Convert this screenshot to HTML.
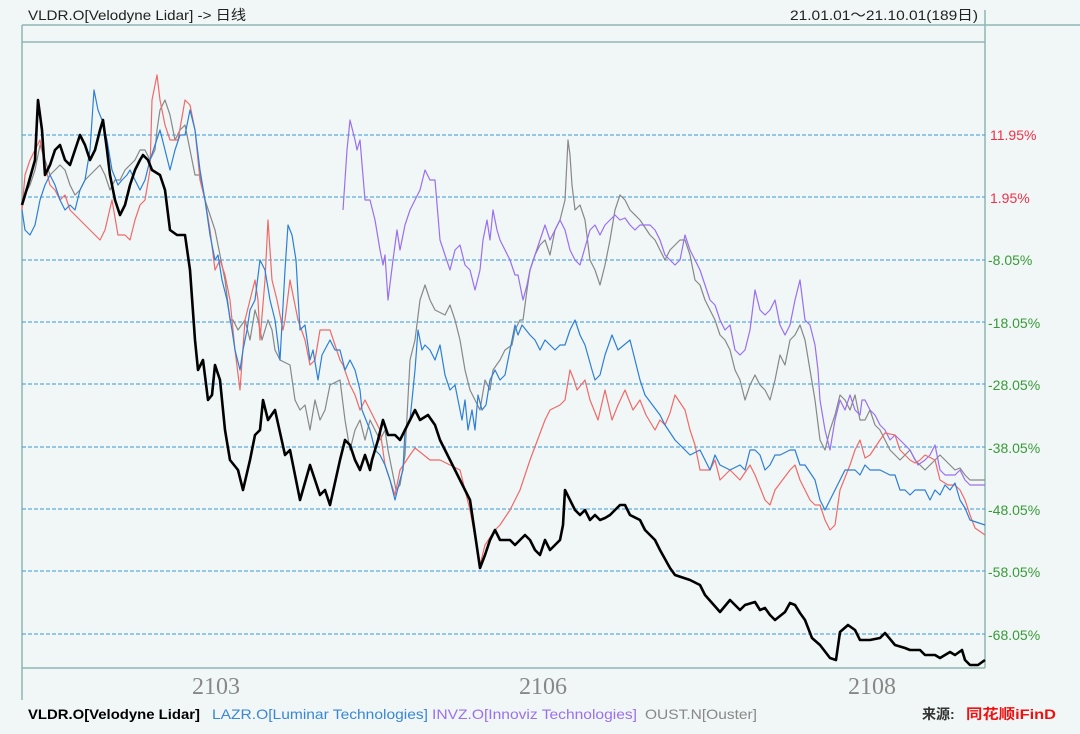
<!DOCTYPE html>
<html><head><meta charset="utf-8"><style>
html,body{margin:0;padding:0;background:#f0f7f6;}
body{width:1080px;height:729px;overflow:hidden;}
</style></head><body>
<svg width="1080" height="729" xmlns="http://www.w3.org/2000/svg" font-family="Liberation Sans, Noto Sans CJK SC, sans-serif">
<rect width="1080" height="729" fill="#f0f7f6"/>
<text x="28" y="20" font-size="14" fill="#222" textLength="218" lengthAdjust="spacingAndGlyphs">VLDR.O[Velodyne Lidar] -&gt; 日线</text>
<text x="790" y="20" font-size="14" fill="#222" textLength="188" lengthAdjust="spacingAndGlyphs">21.01.01～21.10.01(189日)</text>
<g stroke="#8fb5b2" stroke-width="1.5" fill="none">
<line x1="22" y1="25" x2="1080" y2="25"/>
<line x1="22" y1="42" x2="985" y2="42"/>
<line x1="22" y1="25" x2="22" y2="700"/>
<line x1="985" y1="10" x2="985" y2="668"/>
<line x1="22" y1="668" x2="985" y2="668"/>
</g>
<g stroke="#3a9ad8" stroke-width="1" stroke-dasharray="4,2">
<line x1="22" y1="135" x2="985" y2="135"/><line x1="22" y1="197" x2="985" y2="197"/>
<line x1="22" y1="260" x2="985" y2="260"/><line x1="22" y1="322" x2="985" y2="322"/>
<line x1="22" y1="384" x2="985" y2="384"/><line x1="22" y1="447" x2="985" y2="447"/>
<line x1="22" y1="509" x2="985" y2="509"/><line x1="22" y1="571" x2="985" y2="571"/>
<line x1="22" y1="634" x2="985" y2="634"/>
</g>
<g font-size="14">
<text x="990" y="140" fill="#f0304a">11.95%</text>
<text x="990" y="203" fill="#f0304a">1.95%</text>
<g fill="#3a9a3a">
<text x="988" y="265">-8.05%</text><text x="988" y="328">-18.05%</text>
<text x="988" y="390">-28.05%</text><text x="988" y="453">-38.05%</text>
<text x="988" y="515">-48.05%</text><text x="988" y="577">-58.05%</text>
<text x="988" y="640">-68.05%</text></g>
</g>
<g font-family="Liberation Serif, serif" font-size="24" fill="#888" text-anchor="middle">
<text x="216" y="694">2103</text><text x="543" y="694">2106</text><text x="872" y="694">2108</text>
</g>
<g fill="none" stroke-linejoin="round">
<polyline stroke="#888" stroke-width="1.2" points="22,200 30,185 35,170 40,145 45,160 50,175 55,170 60,165 65,170 70,185 75,195 80,190 85,180 90,175 95,170 100,165 105,175 110,190 115,180 120,180 125,170 130,165 135,160 140,150 145,150 150,160 155,150 157,130 160,110 165,100 170,115 175,140 180,130 185,125 190,150 195,175 200,175 205,200 210,215 215,230 220,255 225,280 230,320 233,320 238,330 245,320 250,340 255,310 258,320 262,340 268,320 272,330 275,350 280,360 290,365 295,400 300,410 305,405 310,430 315,400 320,420 325,410 330,385 340,380 345,420 350,450 355,430 360,420 365,440 370,420 375,430 380,440 385,430 388,450 392,470 396,490 400,485 405,455 410,360 415,340 420,300 425,285 430,300 435,310 445,315 450,305 455,320 460,340 465,370 470,390 475,400 480,410 485,380 490,390 493,370 500,360 505,350 512,345 515,330 520,320 523,320 527,290 530,270 535,255 540,245 545,240 550,255 555,230 560,220 565,200 568,140 570,155 572,185 575,210 580,205 585,220 590,260 595,270 600,285 605,265 610,240 615,210 620,195 625,200 630,210 640,220 650,235 655,240 660,250 665,260 670,250 680,240 685,240 690,255 695,280 700,285 705,300 710,310 715,320 720,335 725,340 730,350 735,370 740,380 745,400 750,385 755,375 760,385 765,390 770,400 775,380 780,355 785,365 790,340 795,335 800,325 805,340 810,370 815,400 820,440 825,450 830,430 835,415 840,395 845,400 850,410 855,395 860,420 865,420 870,410 875,425 880,430 885,440 890,450 895,455 900,460 905,455 910,450 915,460 920,465 925,470 930,465 935,460 940,455 945,460 950,465 955,470 960,468 965,475 970,480 985,480"/>
<polyline stroke="#9b6ff0" stroke-width="1.2" points="343,210 347,150 350,120 355,140 357,150 360,140 365,200 370,200 375,220 380,250 383,265 385,255 388,300 393,260 397,230 400,250 405,225 410,210 420,190 425,170 430,180 435,180 440,240 445,255 450,270 455,250 460,245 465,265 470,270 475,290 480,270 483,240 487,220 490,240 493,210 497,230 500,240 505,250 510,260 515,275 518,275 523,300 527,285 530,270 535,255 540,240 545,225 550,240 555,230 560,220 565,230 570,250 575,260 580,265 590,230 595,225 600,235 605,225 610,220 615,215 620,220 625,218 630,225 635,230 640,225 650,225 655,230 660,240 665,255 670,260 675,265 680,260 685,235 690,250 695,260 700,270 705,285 710,300 715,305 720,320 725,330 730,325 735,350 740,355 745,350 750,330 755,290 760,310 765,315 770,310 775,300 780,325 785,335 790,325 795,300 800,280 805,320 810,325 815,345 818,370 820,400 825,430 830,450 835,420 840,400 845,410 850,395 855,410 860,415 862,400 865,400 870,410 875,415 880,425 885,430 890,440 895,435 900,440 905,445 910,450 918,465 925,460 930,455 935,445 940,470 945,475 955,475 960,470 965,480 970,485 985,485"/>
<polyline stroke="#f06a6a" stroke-width="1.2" points="22,210 25,175 30,160 35,150 40,140 45,165 50,185 55,190 60,200 65,195 70,210 80,220 90,230 100,240 105,230 112,200 118,235 125,235 130,240 135,220 140,205 145,200 150,170 152,100 157,75 160,100 165,125 170,140 178,140 185,100 190,105 195,130 200,180 205,200 210,230 215,270 220,260 225,275 230,300 235,350 240,390 245,320 250,300 255,280 258,300 260,340 265,280 268,220 272,280 277,300 283,330 285,320 290,280 295,305 298,320 305,340 310,365 315,360 320,330 330,330 340,360 343,365 350,385 355,395 360,410 365,400 370,410 375,420 380,430 385,465 390,480 395,495 400,470 410,455 415,448 420,452 430,460 440,460 450,465 460,470 465,490 470,510 480,565 485,545 495,530 500,525 510,510 520,490 530,460 545,420 550,410 560,405 565,400 570,370 574,380 577,390 585,380 590,400 598,420 605,390 612,420 618,405 625,390 633,410 640,400 646,415 655,430 660,420 665,425 670,413 675,395 685,410 690,430 695,445 700,470 710,470 715,460 720,480 730,470 740,480 750,465 755,475 765,500 770,505 775,490 790,470 795,465 800,480 810,500 815,505 820,505 825,520 830,530 835,525 840,490 850,465 855,450 860,440 865,458 870,455 880,440 885,433 895,435 900,450 905,455 910,460 915,463 920,460 925,455 935,460 940,480 948,485 955,485 960,490 965,500 970,515 975,528 985,535"/>
<polyline stroke="#2e7fd8" stroke-width="1.2" points="22,210 25,230 30,235 35,225 40,200 45,185 50,175 55,185 60,200 65,210 70,205 75,210 80,190 85,180 90,150 94,90 98,110 102,120 107,140 112,170 118,185 122,180 127,175 130,170 135,180 140,190 145,180 150,160 155,145 160,130 165,150 170,170 175,150 180,135 185,135 190,110 195,130 200,170 205,200 210,235 215,260 218,255 222,280 227,300 232,330 235,350 240,370 243,350 247,330 250,310 255,300 260,260 265,270 270,300 275,320 280,360 285,270 288,225 292,235 296,260 300,330 305,325 310,360 313,350 318,380 322,355 330,340 335,350 340,350 345,370 350,360 355,370 360,390 362,410 370,430 375,450 380,455 385,465 390,480 395,500 400,480 403,470 405,430 410,420 415,370 418,330 422,350 425,345 430,350 435,360 440,345 445,375 450,390 455,385 458,400 462,420 465,400 468,430 472,410 475,430 478,395 482,410 486,405 490,380 495,370 500,380 505,375 510,350 515,325 518,335 522,325 530,335 535,340 540,350 545,340 550,345 555,350 560,345 565,345 570,330 575,320 580,335 585,345 592,370 595,380 600,375 605,355 612,335 618,350 630,340 635,360 640,380 645,395 660,415 665,425 675,440 685,450 690,455 700,450 705,460 710,470 715,455 720,465 730,470 740,465 745,470 750,450 755,450 760,455 765,470 770,465 775,455 780,455 790,450 795,450 800,465 805,465 815,480 820,500 825,510 830,500 835,490 845,470 855,470 860,475 865,465 870,470 880,470 890,475 895,475 900,490 905,490 910,495 915,490 925,490 930,500 935,490 940,495 945,485 950,490 955,483 960,500 965,508 970,520 985,525"/>
<polyline stroke="#000" stroke-width="2.6" points="22,205 28,185 35,160 38,100 42,130 45,175 50,165 55,150 60,145 65,160 70,165 75,150 80,135 85,145 90,160 95,150 100,130 103,120 107,150 110,175 115,200 120,215 125,205 130,185 135,170 140,160 143,155 148,160 152,170 160,175 165,190 170,230 177,235 185,235 190,270 195,340 198,370 203,360 208,400 212,395 215,365 220,380 225,430 230,460 238,470 243,490 250,460 255,435 260,430 263,400 268,420 275,410 285,455 290,450 300,500 310,465 320,495 325,490 330,505 340,460 345,440 350,445 355,460 360,470 365,455 370,470 372,460 378,440 383,420 388,435 395,435 400,440 405,430 415,410 420,420 428,415 435,425 440,440 445,450 455,470 465,490 470,500 480,568 485,555 490,540 495,530 500,540 510,540 515,545 525,535 530,540 535,550 540,555 545,540 550,550 555,545 560,540 563,525 565,490 570,500 575,510 580,515 585,510 590,520 595,515 600,520 605,518 610,515 615,510 620,505 625,505 630,515 640,520 645,530 655,540 660,550 670,568 675,575 690,580 700,585 705,595 720,612 730,600 740,610 745,605 755,602 760,610 765,608 770,615 775,620 785,612 790,603 795,605 800,613 805,620 812,638 820,645 830,658 836,660 840,632 848,625 855,630 860,640 870,640 880,638 885,633 895,645 905,648 910,650 920,650 925,655 935,655 940,658 950,652 955,655 962,650 965,660 970,665 978,665 985,660"/>
</g>
<g font-size="14">
<text x="28" y="719" fill="#000" font-weight="bold" textLength="172" lengthAdjust="spacingAndGlyphs">VLDR.O[Velodyne Lidar]</text>
<text x="212" y="719" fill="#3a86d8" textLength="216" lengthAdjust="spacingAndGlyphs">LAZR.O[Luminar Technologies]</text>
<text x="432" y="719" fill="#9b6ff0" textLength="205" lengthAdjust="spacingAndGlyphs">INVZ.O[Innoviz Technologies]</text>
<text x="645" y="719" fill="#888" textLength="112" lengthAdjust="spacingAndGlyphs">OUST.N[Ouster]</text>
<text x="922" y="719" fill="#333" font-weight="bold">来源:</text>
<text x="966" y="719" fill="#f01010" font-weight="bold" textLength="90" lengthAdjust="spacingAndGlyphs">同花顺iFinD</text>
</g>
</svg>
</body></html>
